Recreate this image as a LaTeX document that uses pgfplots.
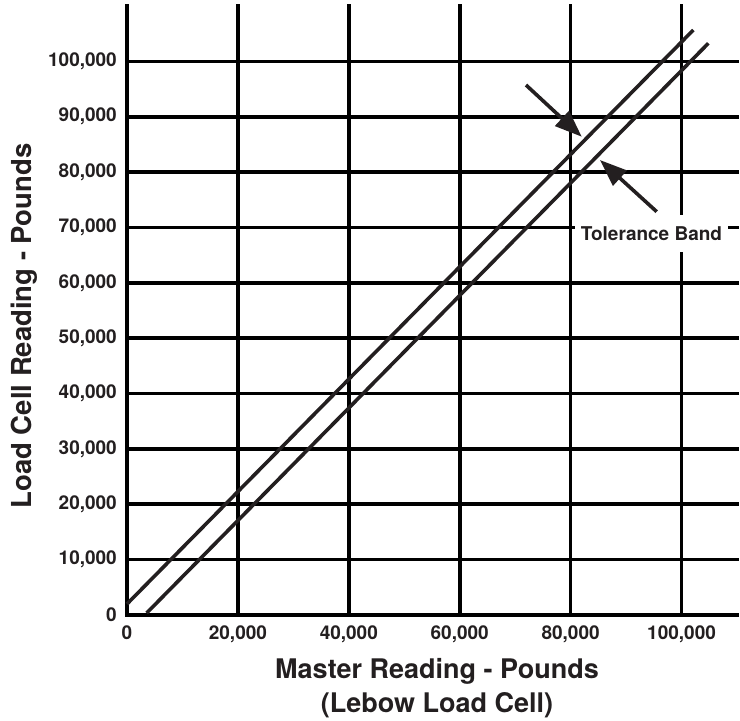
\documentclass[border=0pt]{standalone}
\usepackage{pgfplots}
\pgfplotsset{compat=1.18}
\usepackage{fontspec}
\setmainfont{TeX Gyre Heros}
\usetikzlibrary{arrows.meta}
\definecolor{ink}{HTML}{231F20}
\begin{document}
\begin{tikzpicture}
\useasboundingbox (0pt,0pt) rectangle (740pt,-721pt);
\begin{axis}[
  at={(127pt,-615pt)}, anchor=south west,
  scale only axis, width=610pt, height=609pt,
  xmin=0, xmax=110000, ymin=0, ymax=110000,
  xtick={0,20000,...,100000}, ytick={0,10000,...,100000},
  grid=major, major grid style={black, line width=3.6pt, line cap=rect},
  axis line style={draw=none}, major tick length=0pt, tick style={draw=none},
  scaled ticks=false,
  /pgf/number format/assume math mode=true,
  /pgf/number format/1000 sep={,}, /pgf/number format/fixed,
  tick label style={font=\fontsize{19}{22}\selectfont\bfseries, text=ink, inner sep=0pt},
  xticklabel style={anchor=north, yshift=-11pt},
  yticklabel style={anchor=east, xshift=-10pt},
  clip=false,
]
\addplot[ink, line width=3.6pt] coordinates {(0,1990) (102120,105660)};
\addplot[ink, line width=3.6pt] coordinates {(3550,360) (104830,103260)};
\draw[ink, line width=3.6pt, -{Triangle[length=27pt,width=20pt]}] (axis cs:71950,95730) -- (axis cs:82000,86390);
\draw[ink, line width=3.6pt, -{Triangle[length=27pt,width=20pt]}] (axis cs:95520,72850) -- (axis cs:85300,82180);
\node[fill=white, inner xsep=5.5pt, minimum height=37pt, text=ink, font=\fontsize{19}{22}\selectfont\bfseries] at (axis cs:94580,68910) {Tolerance Band};
\end{axis}
\node[rotate=90, anchor=base, font=\fontsize{27.5}{30}\selectfont\bfseries, text=ink] at (31pt,-326pt) {Load Cell Reading - Pounds};
\node[anchor=base, font=\fontsize{27}{30}\selectfont\bfseries, text=ink] at (437pt,-678pt) {Master Reading - Pounds};
\node[anchor=base, font=\fontsize{27}{30}\selectfont\bfseries, text=ink] at (437pt,-712pt) {(Lebow Load Cell)};
\end{tikzpicture}
\end{document}
